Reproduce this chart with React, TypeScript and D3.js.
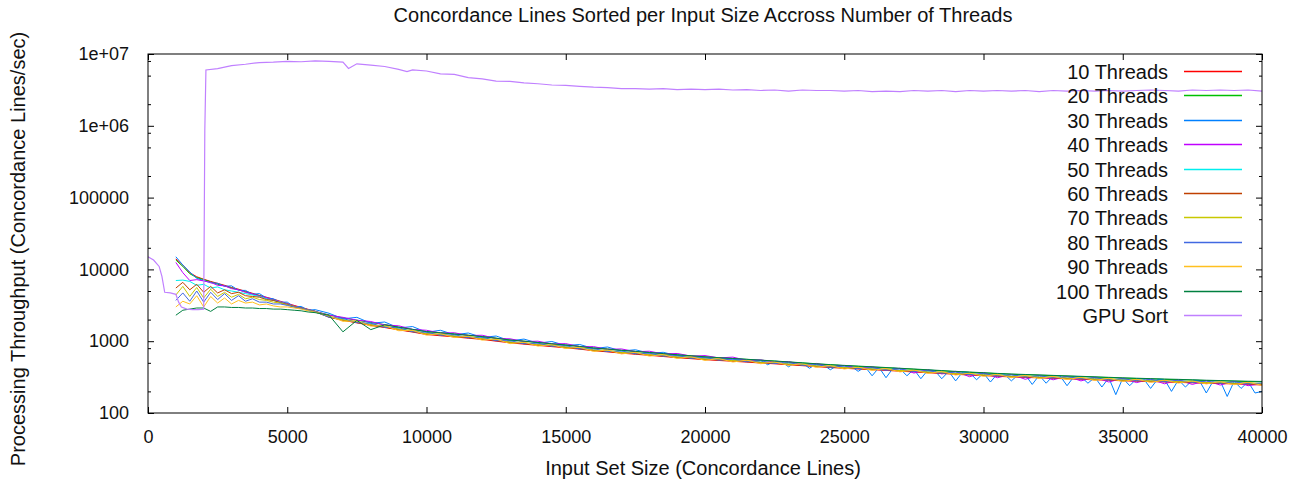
import React, { useEffect, useRef } from 'react';
import * as d3 from 'd3';

// input set sizes (concordance lines) for the thread runs
const sizes = [
  1000, 1250, 1500, 1750, 2000, 2250, 2500, 2750, 3000, 3250, 3500, 3750, 4000, 4250, 4500, 4750, 5000, 5250, 5500, 5750, 6000,
  6500, 7000, 7500, 8000, 8500, 9000, 9500, 10000, 10500, 11000,
  11500, 12000, 12500, 13000, 13500, 14000, 14500, 15000, 15500, 16000,
  16500, 17000, 17500, 18000, 18500, 19000, 19500, 20000, 20500, 21000,
  21500, 22000, 22500, 23000, 23500, 24000, 24500, 25000, 25500, 26000,
  26500, 27000, 27500, 28000, 28500, 29000, 29500, 30000, 30500, 31000,
  31500, 32000, 32500, 33000, 33500, 34000, 34500, 35000, 35500, 36000,
  36500, 37000, 37500, 38000, 38500, 39000, 39500, 40000,
];

// the 30 thread run was sampled more finely at the large sizes
const sizes30 = [
  1000, 1250, 1500, 1750, 2000, 2250, 2500, 2750, 3000, 3250, 3500, 3750, 4000, 4250, 4500, 4750, 5000, 5250, 5500, 5750, 6000,
  6500, 7000, 7500, 8000, 8500, 9000, 9500, 10000, 10500, 11000,
  11500, 12000, 12500, 13000, 13500, 14000, 14500, 15000, 15500, 16000,
  16500, 17000, 17500, 18000, 18500, 19000, 19500, 20000, 20500, 21000,
  21250, 21500, 21750, 22000, 22250, 22500, 22750, 23000, 23250, 23500, 23750, 24000,
  24250, 24500, 24750, 25000, 25250, 25500, 25750, 26000, 26250, 26500, 26750, 27000,
  27250, 27500, 27750, 28000, 28250, 28500, 28750, 29000, 29250, 29500, 29750, 30000,
  30250, 30500, 30750, 31000, 31250, 31500, 31750, 32000, 32250, 32500, 32750, 33000,
  33250, 33500, 33750, 34000, 34250, 34500, 34750, 35000, 35250, 35500, 35750, 36000,
  36250, 36500, 36750, 37000, 37250, 37500, 37750, 38000, 38250, 38500, 38750, 39000,
  39250, 39500, 39750, 40000,
];

const threads10 = [
  14000, 11500, 9000, 7900, 7300, 6800, 6400, 6000, 5600, 5300, 4950, 4650, 4350, 4100, 3850, 3600, 3350, 3150, 2950, 2780, 2620,
  2180, 1960, 1800, 1660, 1550, 1440, 1340, 1240, 1190, 1150,
  1100, 1060, 1000, 950, 910, 875, 840, 810, 775, 738,
  710, 682, 658, 636, 612, 590, 571, 553, 539, 525,
  511, 497, 484, 470, 456, 442, 430, 419, 410, 401,
  392, 382, 373, 364, 355, 346, 338, 332, 324, 318,
  313, 309, 304, 299, 295, 290, 286, 281, 277, 274,
  270, 267, 263, 260, 257, 254, 251, 245,
];
const threads20 = [
  13500, 11000, 8700, 7700, 7200, 6700, 6200, 5900, 5500, 5200, 4850, 4550, 4300, 4000, 3750, 3500, 3280, 3080, 2900, 2750, 2600,
  2320, 2110, 1960, 1820, 1700, 1570, 1460, 1360, 1310, 1260,
  1210, 1160, 1100, 1040, 1000, 960, 920, 885, 845, 805,
  775, 745, 720, 695, 668, 645, 625, 605, 588, 573,
  558, 543, 527, 512, 497, 482, 469, 457, 446, 436,
  426, 416, 406, 396, 386, 376, 368, 361, 353, 346,
  341, 336, 331, 326, 321, 316, 311, 306, 302, 298,
  294, 291, 287, 283, 280, 277, 274, 272,
];
const threads30 = [
  15000, 11500, 9200, 7500, 7000, 6500, 6400, 5800, 5900, 5100, 5100, 4500, 4600, 4000, 3900, 3500, 3500, 3000, 3050, 2700, 2750,
  2450, 2050, 2150, 1780, 1850, 1530, 1600, 1330, 1420, 1230,
  1300, 1130, 1180, 1010, 1070, 940, 990, 870, 900, 790,
  830, 730, 760, 680, 700, 630, 610, 590, 575, 560,
  560, 555, 545, 540, 470, 525, 518, 440, 505, 495, 420, 480,
  470, 400, 460, 455, 448, 380, 440, 330, 430, 310, 420, 415,
  330, 405, 300, 395, 390, 300, 380, 280, 372, 367, 290, 360,
  270, 352, 348, 280, 342, 340, 250, 335, 260, 330, 328, 240,
  322, 320, 260, 315, 230, 310, 180, 305, 240, 301, 299, 220,
  295, 293, 200, 290, 230, 286, 284, 190, 280, 279, 170, 276,
  220, 273, 190, 200,
];
const threads40 = [
  12500, 9000, 7000, 7200, 6900, 6600, 6000, 5900, 5400, 5200, 4800, 4550, 4250, 4050, 3750, 3550, 3300, 3100, 2900, 2750, 2600,
  2300, 2150, 1960, 1880, 1680, 1640, 1460, 1420, 1300, 1310,
  1200, 1210, 1090, 1080, 990, 1000, 915, 925, 840, 840,
  770, 780, 715, 725, 665, 675, 620, 630, 585, 600,
  540, 550, 510, 520, 470, 490, 440, 460, 420, 440,
  390, 420, 360, 400, 350, 380, 320, 365, 310, 345,
  295, 335, 290, 325, 280, 315, 270, 305, 265, 297,
  255, 290, 250, 282, 245, 276, 240, 255,
];
const threads50 = [
  7000, 7100, 6800, 6000, 6200, 5500, 5700, 5200, 5000, 4800, 4600, 4400, 4200, 3900, 3700, 3500, 3250, 3050, 2880, 2720, 2580,
  2190, 1990, 1860, 1705, 1600, 1480, 1380, 1280, 1240, 1185,
  1145, 1090, 1040, 975, 945, 900, 872, 835, 800, 758,
  735, 702, 683, 655, 635, 607, 592, 569, 558, 541,
  530, 512, 502, 484, 472, 455, 446, 432, 425, 412,
  406, 393, 387, 375, 368, 355, 351, 341, 336, 327,
  325, 318, 315, 308, 306, 299, 296, 289, 287, 281,
  280, 275, 273, 267, 266, 261, 260, 255,
];
const threads60 = [
  5500, 6600, 5200, 6200, 4800, 5800, 4700, 5200, 4600, 4800, 4300, 4200, 4100, 3800, 3700, 3450, 3250, 3050, 2880, 2720, 2580,
  2150, 1965, 1820, 1685, 1570, 1460, 1355, 1265, 1215, 1170,
  1120, 1075, 1020, 965, 925, 890, 855, 823, 785, 748,
  720, 692, 668, 645, 622, 598, 580, 561, 547, 533,
  519, 505, 491, 477, 463, 449, 437, 425, 416, 407,
  397, 388, 379, 369, 360, 351, 343, 337, 329, 323,
  318, 313, 309, 304, 299, 295, 290, 285, 281, 278,
  274, 271, 267, 264, 261, 258, 255, 250,
];
const threads70 = [
  4400, 5800, 4200, 5600, 4000, 5300, 4200, 4800, 4100, 4500, 3900, 4100, 3800, 3700, 3500, 3400, 3200, 3000, 2850, 2700, 2560,
  2230, 1975, 1890, 1690, 1630, 1465, 1405, 1270, 1260, 1175,
  1165, 1080, 1057, 968, 960, 893, 888, 827, 815, 752,
  747, 696, 694, 649, 645, 602, 601, 564, 567, 536,
  538, 508, 509, 479, 480, 451, 453, 428, 432, 409,
  412, 390, 393, 371, 373, 353, 356, 338, 341, 324,
  330, 315, 320, 306, 310, 296, 301, 287, 292, 279,
  284, 273, 277, 265, 271, 259, 265, 255,
];
const threads80 = [
  3700, 4700, 3600, 5000, 3500, 4800, 3800, 4600, 3700, 4300, 3600, 3900, 3500, 3500, 3300, 3300, 3150, 2980, 2850, 2700, 2560,
  2160, 2080, 1810, 1780, 1560, 1545, 1350, 1335, 1210, 1235,
  1115, 1140, 1015, 1020, 920, 940, 850, 870, 780, 790,
  715, 733, 665, 683, 618, 634, 577, 594, 544, 564,
  516, 535, 488, 505, 460, 475, 434, 450, 414, 430,
  395, 411, 377, 391, 358, 371, 341, 356, 327, 342,
  316, 332, 307, 322, 298, 312, 288, 302, 280, 294,
  272, 287, 266, 279, 259, 273, 254, 262,
];
const threads90 = [
  3000, 3600, 3300, 4300, 3000, 4200, 3400, 4000, 3300, 3700, 3400, 3500, 3200, 3300, 3100, 3000, 3000, 2900, 2800, 2650, 2540,
  2250, 1890, 1910, 1620, 1650, 1400, 1420, 1215, 1275, 1125,
  1175, 1035, 1070, 925, 970, 855, 895, 790, 825, 720,
  755, 665, 700, 620, 650, 575, 608, 540, 573, 513,
  545, 486, 515, 460, 485, 432, 458, 410, 436, 392,
  417, 374, 397, 356, 377, 338, 360, 324, 345, 311,
  333, 302, 323, 293, 314, 284, 304, 275, 295, 267,
  287, 261, 280, 254, 273, 248, 268, 243,
];
const threads100 = [
  2300, 2700, 2800, 2900, 2900, 2600, 3000, 3000, 2950, 2950, 2900, 2900, 2850, 2850, 2800, 2800, 2750, 2700, 2650, 2550, 2500,
  2300, 1350, 1950, 1450, 1690, 1570, 1460, 1360, 1310, 1260,
  1210, 1160, 1100, 1040, 1000, 960, 920, 885, 845, 805,
  778, 748, 722, 697, 672, 647, 627, 607, 590, 575,
  560, 545, 530, 515, 500, 485, 472, 460, 450, 440,
  430, 420, 410, 400, 390, 380, 372, 364, 356, 349,
  344, 339, 334, 329, 324, 319, 314, 309, 305, 301,
  297, 294, 290, 286, 283, 280, 277, 275,
];

// GPU sort has its own sample sizes
const gpuSizes = [
  0, 200, 400, 500, 600, 800, 1000, 1100, 1200, 1400, 1600, 1800, 2000, 2040, 2080,
  2500, 3000, 3500, 4000, 4500, 5000, 5500, 6000, 6500, 7000, 7200, 7500, 8000, 8500, 9000, 9300, 9500,
  10000, 10500, 11000, 11500, 12000, 12500, 13000, 13500, 14000, 14500, 15000, 15500, 16000, 16500,
  17000, 17500, 18000, 18500, 19000, 19500, 20000, 20500, 21000, 21500, 22000, 22500, 23000, 23500,
  24000, 24500, 25000, 25500, 26000, 26500, 27000, 27500, 28000, 28500, 29000, 29500, 30000, 30500,
  31000, 31500, 32000, 32500, 33000, 33500, 34000, 34500, 35000, 35500, 36000, 36500, 37000, 37500,
  38000, 38500, 39000, 39500, 40000,
];
const gpuSort = [
  15000, 13500, 11000, 8000, 4800, 4700, 4500, 3500, 3000, 2800, 2750, 2750, 2800, 870000, 6.0e6,
  6.25e6, 6.9e6, 7.2e6, 7.6e6, 7.7e6, 7.9e6, 7.8e6, 8.0e6, 7.9e6, 7.7e6, 6.3e6, 7.3e6, 7.0e6, 6.7e6, 6.1e6, 5.7e6, 6.0e6,
  5.8e6, 5.3e6, 5.2e6, 4.7e6, 4.5e6, 4.2e6, 4.15e6, 3.95e6, 3.85e6, 3.7e6, 3.65e6, 3.55e6, 3.45e6, 3.4e6,
  3.3e6, 3.3e6, 3.25e6, 3.3e6, 3.2e6, 3.25e6, 3.2e6, 3.25e6, 3.15e6, 3.2e6, 3.1e6, 3.15e6, 3.05e6, 3.15e6,
  3.1e6, 3.1e6, 3.05e6, 3.1e6, 3.0e6, 3.05e6, 3.0e6, 3.1e6, 3.05e6, 3.1e6, 3.0e6, 3.1e6, 3.05e6, 3.1e6,
  3.05e6, 3.1e6, 3.0e6, 3.1e6, 3.05e6, 3.1e6, 3.05e6, 3.1e6, 3.05e6, 3.1e6, 3.15e6, 3.1e6, 3.05e6, 3.15e6,
  3.1e6, 3.15e6, 3.1e6, 3.15e6, 3.05e6,
];

const seriesNames = ['10 Threads', '20 Threads', '30 Threads', '40 Threads', '50 Threads', '60 Threads',
  '70 Threads', '80 Threads', '90 Threads', '100 Threads', 'GPU Sort'];
const seriesColors = ['#ff0000', '#00c000', '#0080ff', '#c000ff', '#00eeee', '#c04000',
  '#c8c800', '#4169e1', '#ffc020', '#008040', '#c080ff'];

const xTicks = [0, 5000, 10000, 15000, 20000, 25000, 30000, 35000, 40000];
const yTicks = [100, 1000, 10000, 100000, 1e6, 1e7];
const yTickLabels = ['100', '1000', '10000', '100000', '1e+06', '1e+07'];

const W = 1303;
const H = 484;
const margin = { top: 54, right: 41, bottom: 71, left: 148 };
const FONT = '"Liberation Sans", Arial, sans-serif';

export default function App() {
  const svgRef = useRef<SVGSVGElement>(null);

  useEffect(() => {
    const width = W - margin.left - margin.right;
    const height = H - margin.top - margin.bottom;

    const xScale = d3.scaleLinear().domain([0, 40000]).range([0, width]);
    const yScale = d3.scaleLog().domain([100, 1e7]).range([height, 0]);

    const root = d3.select(svgRef.current);
    root.selectAll('*').remove();

    const svg = root.append('g')
      .attr('transform', `translate(${margin.left}, ${margin.top})`);

    svg.append('clipPath').attr('id', 'plotclip')
      .append('rect').attr('width', width).attr('height', height);

    const allSeries = [threads10, threads20, threads30, threads40, threads50, threads60,
      threads70, threads80, threads90, threads100, gpuSort];
    const allSizes = [sizes, sizes, sizes30, sizes, sizes, sizes, sizes, sizes, sizes, sizes, gpuSizes];

    const line = d3.line<[number, number]>()
      .x(d => xScale(d[0]))
      .y(d => yScale(d[1]));

    const plot = svg.append('g').attr('clip-path', 'url(#plotclip)');
    allSeries.forEach((vals, i) => {
      const xs = allSizes[i];
      const n = Math.min(xs.length, vals.length);
      const pts: [number, number][] = d3.range(n).map(j => [xs[j], vals[j]]);
      plot.append('path')
        .datum(pts)
        .attr('d', line)
        .attr('fill', 'none')
        .attr('stroke', seriesColors[i])
        .attr('stroke-width', i === 10 ? 1.2 : 1);
    });

    // minor log ticks at 2, 5, 8 per decade
    const minor: number[] = [];
    [100, 1000, 10000, 100000, 1e6].forEach(d => { minor.push(d * 2, d * 5, d * 8); });

    const styleAxis = (g: d3.Selection<SVGGElement, unknown, null, undefined>) => {
      g.select('.domain').remove();
      g.selectAll('line').attr('stroke', '#000');
      g.selectAll('text').attr('fill', '#111').style('font-family', FONT).style('font-size', '18px');
    };

    svg.append('g')
      .attr('transform', `translate(0, ${height})`)
      .call(d3.axisBottom(xScale).tickValues(xTicks).tickSize(-6).tickPadding(17).tickFormat(d3.format('d')))
      .call(styleAxis);
    svg.append('g')
      .call(d3.axisTop(xScale).tickValues(xTicks).tickSize(-6).tickFormat(() => ''))
      .call(styleAxis);
    svg.append('g')
      .call(d3.axisLeft(yScale).tickValues(yTicks).tickSize(-6).tickPadding(19)
        .tickFormat((d, i) => yTickLabels[i]))
      .call(styleAxis);
    svg.append('g')
      .call(d3.axisLeft(yScale).tickValues(minor).tickSize(-3).tickFormat(() => ''))
      .call(styleAxis);
    svg.append('g')
      .attr('transform', `translate(${width}, 0)`)
      .call(d3.axisRight(yScale).tickValues(yTicks).tickSize(-6).tickFormat(() => ''))
      .call(styleAxis);
    svg.append('g')
      .attr('transform', `translate(${width}, 0)`)
      .call(d3.axisRight(yScale).tickValues(minor).tickSize(-3).tickFormat(() => ''))
      .call(styleAxis);

    svg.append('rect')
      .attr('width', width)
      .attr('height', height)
      .attr('fill', 'none')
      .attr('stroke', '#000')
      .attr('stroke-width', 1);

    // legend
    const legend = svg.append('g');
    seriesNames.forEach((name, i) => {
      const ly = Math.round(17 + i * 24.4) + 0.5;
      legend.append('text')
        .attr('x', 1168 - margin.left)
        .attr('y', ly)
        .attr('dy', '0.36em')
        .attr('text-anchor', 'end')
        .attr('fill', '#111')
        .style('font-family', FONT)
        .style('font-size', '20px')
        .text(name);
      legend.append('line')
        .attr('x1', 1184 - margin.left)
        .attr('x2', 1242 - margin.left)
        .attr('y1', ly)
        .attr('y2', ly)
        .attr('stroke', seriesColors[i])
        .attr('stroke-width', 1.5);
    });

    root.append('text')
      .attr('x', 703)
      .attr('y', 22)
      .attr('text-anchor', 'middle')
      .attr('fill', '#111')
      .style('font-family', FONT)
      .style('font-size', '20px')
      .text('Concordance Lines Sorted per Input Size Accross Number of Threads');

    root.append('text')
      .attr('x', 703)
      .attr('y', 475)
      .attr('text-anchor', 'middle')
      .attr('fill', '#111')
      .style('font-family', FONT)
      .style('font-size', '20px')
      .text('Input Set Size (Concordance Lines)');

    root.append('text')
      .attr('transform', 'translate(25, 249) rotate(-90)')
      .attr('text-anchor', 'middle')
      .attr('fill', '#111')
      .style('font-family', FONT)
      .style('font-size', '20px')
      .text('Processing Throughput (Concordance Lines/sec)');
  }, []);

  return (
    <svg ref={svgRef} width={W} height={H}
      style={{ position: 'absolute', left: 0, top: 0, background: '#fff' }} />
  );
}
